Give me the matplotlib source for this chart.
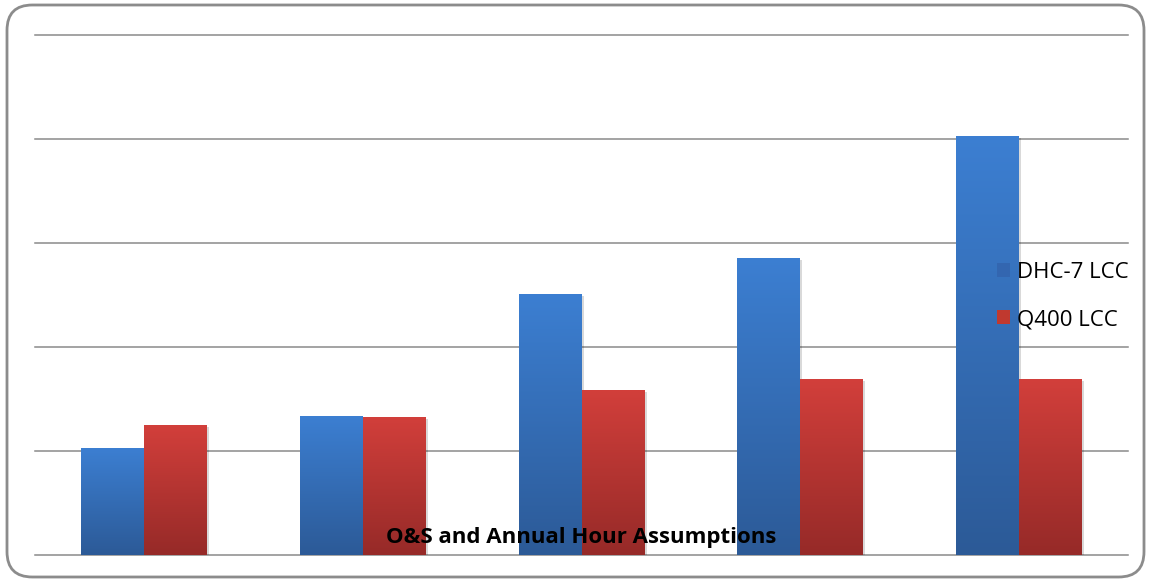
import matplotlib
matplotlib.use("Agg")
import matplotlib.pyplot as plt
import numpy as np
from matplotlib.colors import LinearSegmentedColormap
from matplotlib.patches import FancyBboxPatch
import matplotlib.patheffects as pe

# Life-cycle cost scenarios (relative units)
scenarios = ["1", "2", "3", "4", "5"]
dhc7_lcc = [1.03, 1.34, 2.51, 2.86, 4.03]
q400_lcc = [1.25, 1.33, 1.59, 1.69, 1.69]
series_names = ["DHC-7 LCC", "Q400 LCC"]
title = "O&S and Annual Hour Assumptions"

W, H = 1151, 582
fig = plt.figure(figsize=(W / 100, H / 100), dpi=100)
fig.patch.set_facecolor("white")

# rounded outer frame
frame = FancyBboxPatch((7 / W, 5 / H), 1137 / W, 572 / H,
                       boxstyle="round,pad=0,rounding_size=0.022",
                       transform=fig.transFigure, facecolor="none",
                       edgecolor="#8c8c8c", linewidth=2.0,
                       mutation_aspect=W / H, zorder=-1)
fig.patches.append(frame)

ax = fig.add_axes([35 / W, 27 / H, (1128 - 35) / W, (555 - 35) / H])
ax.set_zorder(2)
ax.set_facecolor("none")
ax.set_yticks(np.arange(0, 6, 1))
ax.yaxis.grid(True, color="#8a8a8a", linewidth=1.1, clip_on=False)
ax.set_axisbelow(True)
ax.tick_params(left=False, bottom=False, labelleft=False, labelbottom=False)
for s in ax.spines.values():
    s.set_visible(False)

x = np.arange(len(scenarios))
bw = 0.288
blue_cmap = LinearSegmentedColormap.from_list("b", ["#2c5a97", "#3c7fd2"])
red_cmap = LinearSegmentedColormap.from_list("r", ["#962a28", "#d23f3b"])
grad = np.linspace(0, 1, 256).reshape(-1, 1)
shadow = [pe.SimplePatchShadow(offset=(1.5, -1.5), shadow_rgbFace="#000000",
                               alpha=0.15), pe.Normal()]

def gradient_bars(xpos, vals, cmap, face, label):
    bars = ax.bar(xpos, vals, width=bw, color=face, label=label,
                  linewidth=0, zorder=2)
    for b in bars:
        b.set_path_effects(shadow)
        x0, y0 = b.get_x(), b.get_y()
        w, h = b.get_width(), b.get_height()
        im = ax.imshow(grad, cmap=cmap, origin="lower", aspect="auto",
                       extent=(x0, x0 + w, y0, y0 + h), zorder=3)
        im.set_clip_path(b)
    return bars

gradient_bars(x - bw / 2, dhc7_lcc, blue_cmap, "#3366b0", series_names[0])
gradient_bars(x + bw / 2, q400_lcc, red_cmap, "#c0392f", series_names[1])
ax.set_xlim(-0.5, len(scenarios) - 0.5)
ax.set_ylim(0, 5)

leg = ax.legend(loc="center left", bbox_to_anchor=(0.862, 0.498),
                frameon=False, handlelength=0.6,
                handleheight=0.6, handletextpad=0.3, labelspacing=1.17,
                prop={"family": "Open Sans", "size": 16})
for h in leg.legend_handles:
    h.set_path_effects([])

ax.text(0.5, 0.034, title, transform=ax.transAxes, ha="center",
        va="center", fontsize=16, fontweight="bold", family="Open Sans",
        zorder=5)

fig.savefig("out.png", dpi=100)
